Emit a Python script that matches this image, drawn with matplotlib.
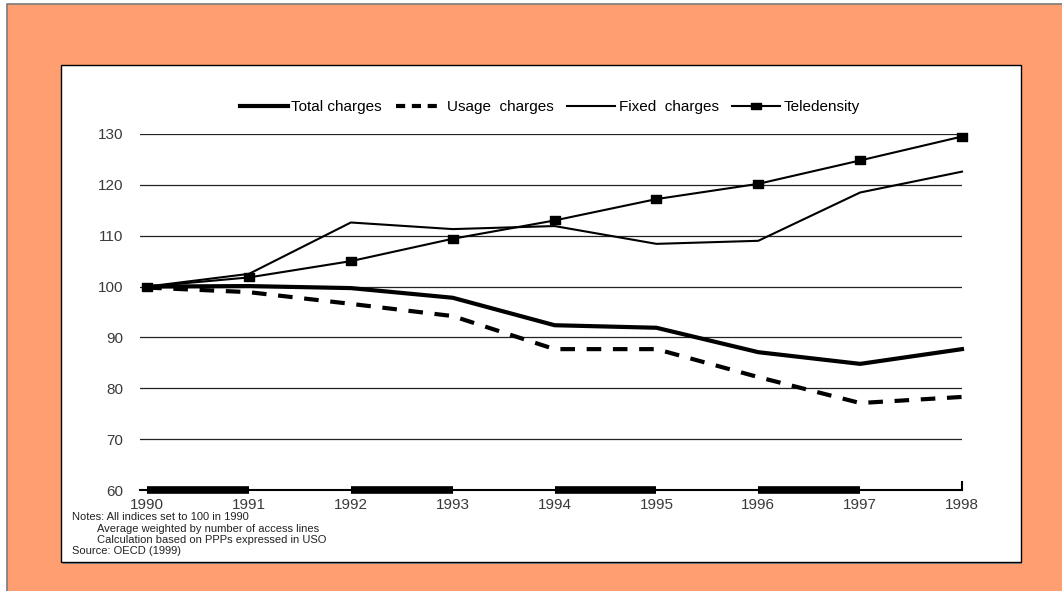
import matplotlib
matplotlib.use("Agg")
import matplotlib.pyplot as plt
from matplotlib.patches import Rectangle
from matplotlib.lines import Line2D

plt.rcParams['font.family'] = ['Liberation Sans', 'DejaVu Sans']

years = [1990, 1991, 1992, 1993, 1994, 1995, 1996, 1997, 1998]
total_charges = [100.0, 100.1, 99.7, 97.8, 92.4, 91.9, 87.1, 84.8, 87.7]
usage_charges = [99.8, 98.9, 96.6, 94.2, 87.7, 87.7, 82.2, 77.1, 78.3]
fixed_charges = [100.0, 102.5, 112.6, 111.3, 111.9, 108.4, 109.0, 118.5, 122.6]
teledensity = [100.0, 101.8, 105.0, 109.4, 113.0, 117.2, 120.2, 124.8, 129.5]
y_ticks = [60, 70, 80, 90, 100, 110, 120, 130]
notes = ["Notes: All indices set to 100 in 1990",
         "Average weighted by number of access lines",
         "Calculation based on PPPs expressed in USO"]
source = "Source: OECD (1999)"

W, H = 1062, 591
fig = plt.figure(figsize=(W / 100, H / 100), dpi=100, facecolor='white')

def fx(px):
    return px / W

def fy(py):
    return 1 - py / H

# orange outer frame and white inner panel
fig.patches.append(Rectangle((fx(7), fy(H + 5)), fx(W), fy(4) - fy(H + 5),
                             transform=fig.transFigure, facecolor='#FF9F71',
                             edgecolor='#7a7a7a', linewidth=1.2, zorder=0))
fig.patches.append(Rectangle((fx(63), fy(564)), fx(1022 - 63), fy(67) - fy(564),
                             transform=fig.transFigure, facecolor='#8a8a8a',
                             edgecolor='none', zorder=0.5))
fig.patches.append(Rectangle((fx(61), fy(562)), fx(1021 - 61), fy(65) - fy(562),
                             transform=fig.transFigure, facecolor='white',
                             edgecolor='black', linewidth=1.0, zorder=1))

ax = fig.add_axes([fx(140), fy(490), fx(962 - 140), fy(134) - fy(490)])
ax.set_zorder(3)
ax.set_facecolor('none')
ax.set_xlim(years[0] - 0.07, years[-1])
ax.set_ylim(60, 130)

for v in y_ticks[1:]:
    ax.axhline(v, color='#222222', linewidth=0.9, zorder=1)

# flat rectangular marker, wider than tall
flat_box = [(-1, -0.68), (1, -0.68), (1, 0.68), (-1, 0.68), (-1, -0.68)]

ax.plot(years, total_charges, color='black', lw=3.0, clip_on=False, zorder=3,
        solid_joinstyle='miter')
ax.plot(years, usage_charges, color='black', lw=3.0, ls=(0, (3.5, 2.8)),
        clip_on=False, zorder=3)
ax.plot(years, fixed_charges, color='black', lw=1.5, clip_on=False, zorder=3)
ax.plot(years, teledensity, color='black', lw=1.5, marker=flat_box,
        markersize=7.5, clip_on=False, zorder=4)

# thick alternating segments along the year axis
for a, b in zip(years[0:-1:2], years[1::2]):
    ax.plot([a, b], [60, 60], color='black', lw=5.5, solid_capstyle='butt',
            clip_on=False, zorder=5)
ax.plot([years[-1], years[-1]], [60, 61.5], color='black', lw=1.5,
        clip_on=False, zorder=5)

for s in ['top', 'right', 'left']:
    ax.spines[s].set_visible(False)
ax.spines['bottom'].set_linewidth(1.5)
ax.spines['bottom'].set_color('black')

ax.set_yticks(y_ticks)
ax.set_yticklabels([str(v) for v in y_ticks])
ax.tick_params(axis='y', length=0, pad=12, labelsize=11, labelcolor='#3a3a3a')
ax.set_xticks(years)
ax.set_xticklabels([str(y) for y in years])
ax.tick_params(axis='x', length=0, pad=6, labelsize=11, labelcolor='#3a3a3a')

handles = [
    Line2D([], [], color='black', lw=3.0),
    Line2D([], [], color='black', lw=3.0, ls=(0, (2.2, 1.6))),
    Line2D([], [], color='black', lw=1.5),
    Line2D([], [], color='black', lw=1.5, marker=flat_box, markersize=7),
]
labels = ['Total charges', 'Usage  charges', 'Fixed  charges', 'Teledensity']
leg = fig.legend(handles, labels, loc='center', bbox_to_anchor=(fx(550), fy(107)),
                 ncol=4, frameon=False, fontsize=11, handlelength=3.1,
                 handletextpad=0.25, columnspacing=0.9, borderpad=0)
leg.set_zorder(4)

for txt, x, y in [(notes[0], 72, 517), (notes[1], 97, 529),
                  (notes[2], 97, 540), (source, 72, 551)]:
    fig.text(fx(x), fy(y), txt, fontsize=8, va='center', ha='left',
             color='#222222', zorder=4)

fig.savefig('out.png', dpi=100, facecolor='white')
